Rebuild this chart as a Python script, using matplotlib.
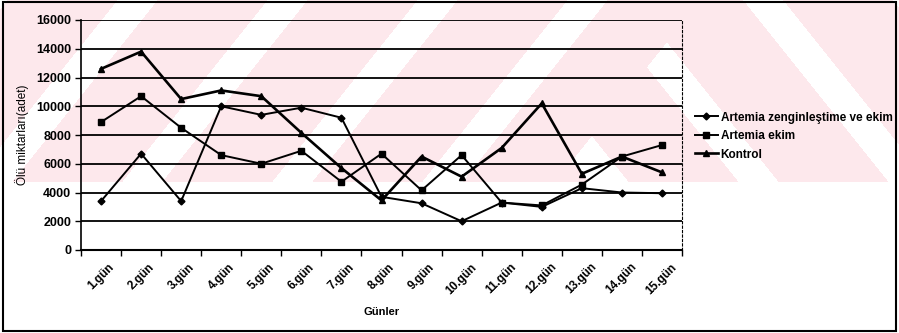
import matplotlib
matplotlib.use('Agg')
import matplotlib.pyplot as plt
from matplotlib.patches import Rectangle
import numpy as np

plt.rcParams['font.family'] = ['Liberation Sans', 'DejaVu Sans']

# Data
days = ['1.gün', '2.gün', '3.gün', '4.gün', '5.gün', '6.gün', '7.gün', '8.gün',
        '9.gün', '10.gün', '11.gün', '12.gün', '13.gün', '14.gün', '15.gün']
zenginlestirme = [3400, 6700, 3400, 10000, 9400, 9900, 9200, 3700,
                  3250, 2000, 3300, 3000, 4300, 4000, 3950]
ekim = [8900, 10700, 8500, 6600, 6000, 6900, 4750, 6700,
        4150, 6600, 3300, 3100, 4550, 6500, 7300]
kontrol = [12600, 13800, 10500, 11100, 10700, 8150, 5700, 3450,
           6500, 5100, 7100, 10200, 5300, 6500, 5400]
series_labels = ['Artemia zenginleştime ve ekim', 'Artemia ekim', 'Kontrol']
y_ticks = list(range(0, 16001, 2000))

W, H = 899, 333
fig = plt.figure(figsize=(W / 100, H / 100), dpi=100)

# faint pink striped watermark in the background
bg = fig.add_axes([0, 0, 1, 1], zorder=-5)
yy, xx = np.mgrid[0:H, 0:W]
u = xx + 0.8 * yy
v = xx - 0.8 * yy
white = np.where(u < 700, (u - 117) % 150 < 40, (v - 743) % 150 < 40)
pink = (~white) & (yy < 182)
img = np.ones((H, W, 3))
img[pink] = np.array([253, 232, 236]) / 255
bg.imshow(img, aspect='auto', extent=(0, W, H, 0))
bg.axis('off')

# outer frame of the chart
fig.patches.append(Rectangle((0.003, 0.006), 0.994, 0.988, transform=fig.transFigure,
                             fill=False, edgecolor='black', lw=1.5))

ax = fig.add_axes([81 / W, 1 - 250 / H, 601 / W, 230 / H])
ax.patch.set_alpha(0)

x = np.arange(len(days))
ax.plot(x, zenginlestirme, color='black', lw=1.4, marker='D', markersize=3.5,
        label=series_labels[0], zorder=3)
ax.plot(x, ekim, color='black', lw=1.4, marker='s', markersize=4,
        label=series_labels[1], zorder=3)
ax.plot(x, kontrol, color='black', lw=1.9, marker='^', markersize=4.5,
        label=series_labels[2], zorder=3)

ax.set_xlim(-0.5, len(days) - 0.5)
ax.set_ylim(0, 16000)
ax.set_yticks(y_ticks)
ax.yaxis.grid(True, color='black', lw=1.3)
ax.set_axisbelow(True)

ax.set_xticks(x)
ax.set_xticklabels(days, rotation=45, ha='center', fontsize=8.5, fontweight='bold')
ax.set_xticks(np.arange(-0.5, len(days), 1), minor=True)
ax.tick_params(axis='x', which='major', length=0, pad=8)
ax.tick_params(axis='x', which='minor', length=4, width=1, direction='out')
ax.tick_params(axis='y', length=4, width=1, direction='out', pad=3)
for lbl in ax.get_yticklabels():
    lbl.set_fontsize(9)
    lbl.set_fontweight('bold')

ax.spines['top'].set_visible(False)
ax.spines['right'].set_linestyle((0, (2, 2)))
ax.spines['right'].set_linewidth(0.8)
ax.spines['left'].set_linewidth(1.2)
ax.spines['bottom'].set_linewidth(1.5)

ax.set_ylabel('Ölü miktarları(adet)', fontsize=8.5)
ax.yaxis.set_label_coords(-0.086, 0.5)
ax.set_xlabel('Günler', fontsize=8, fontweight='bold', va='center')
ax.xaxis.set_label_coords(0.5, -0.27)

leg = ax.legend(loc='upper left', bbox_to_anchor=(691 / W, 1 - 108 / H),
                bbox_transform=fig.transFigure, fancybox=False, framealpha=0,
                edgecolor='black', prop={'size': 8.5, 'weight': 'bold'},
                handlelength=2.0, handletextpad=0.2, borderpad=0.3,
                labelspacing=0.55, borderaxespad=0)
leg.get_frame().set_linewidth(1.2)

fig.savefig('out.png', dpi=100)
